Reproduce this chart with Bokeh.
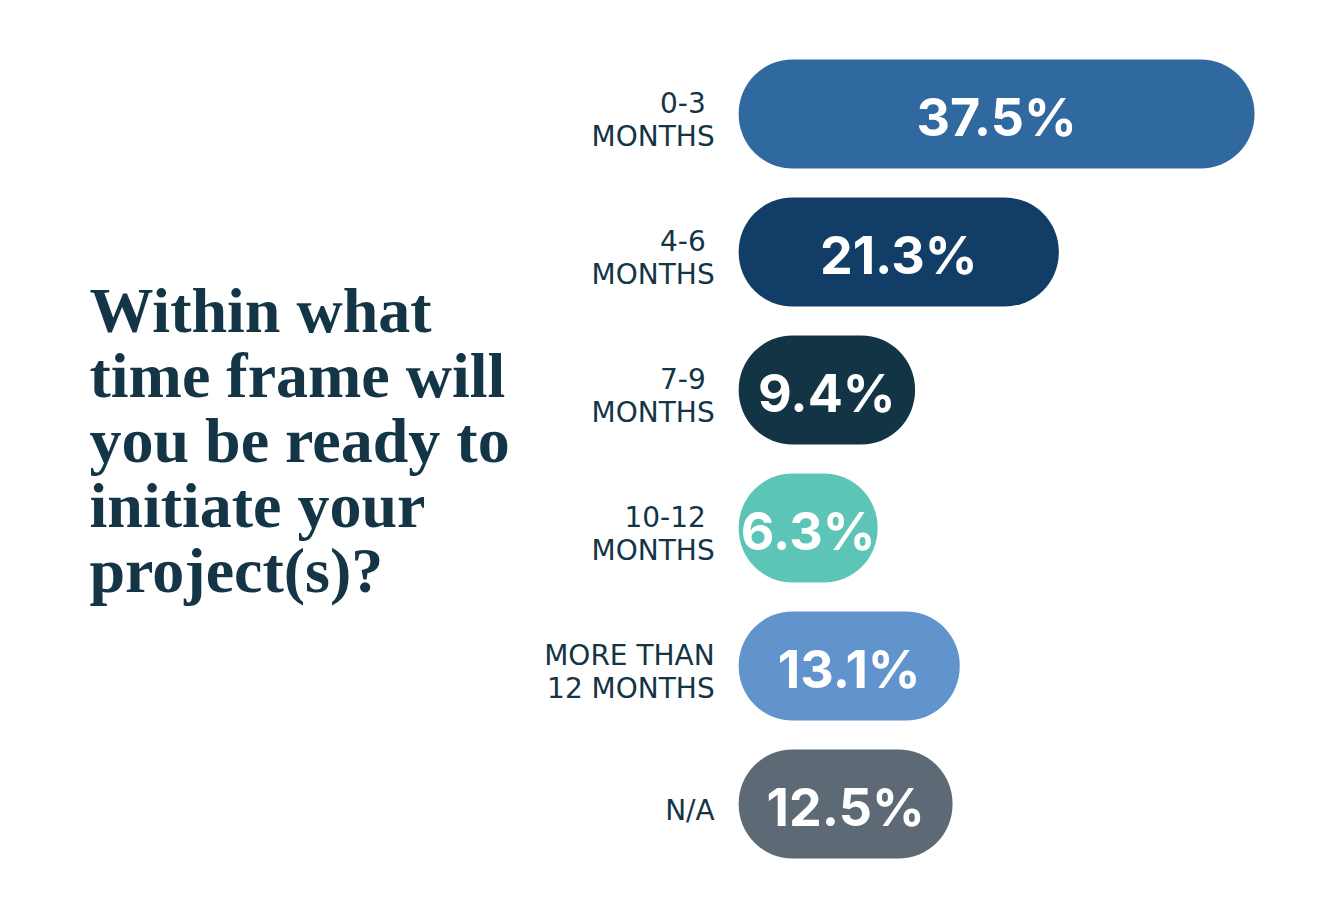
from bokeh.plotting import figure
from bokeh.models import ColumnDataSource, Range1d, Label
from bokeh.core.properties import value
from bokeh.embed import file_html
from bokeh.resources import INLINE

# ---- data ----
CATEGORIES = ["0-3 \nMONTHS", "4-6 \nMONTHS", "7-9 \nMONTHS", "10-12 \nMONTHS",
              "MORE THAN\n12 MONTHS", "N/A"]
VALUES = [37.5, 21.3, 9.4, 6.3, 13.1, 12.5]
LABELS = ["37.5%", "21.3%", "9.4%", "6.3%", "13.1%", "12.5%"]
COLORS = ["#3068a0", "#113d66", "#133444", "#5cc5b8", "#6193cc", "#5d6a75"]
TITLE_LINES = ["Within what", "time frame will", "you be ready to",
               "initiate your", "project(s)?"]

# ---- style constants ----
W, H = 1308, 898
BAR_BASE = -5.2          # pill start (value units) so short bars keep room for caps
PX_PER_UNIT = 12.08
ZERO_PX = 801
ROW_PX = 138
FIRST_ROW_PX = 113.5
TEXT_DARK = "#133546"

x_start = -ZERO_PX / PX_PER_UNIT
x_end = (W - ZERO_PX) / PX_PER_UNIT
y_top = -FIRST_ROW_PX / ROW_PX
y_bot = (H - FIRST_ROW_PX) / ROW_PX

idx = list(range(len(VALUES)))
src = ColumnDataSource(dict(
    y=idx,
    v=VALUES,
    left=[BAR_BASE] * len(VALUES),
    mid=[(BAR_BASE + v) / 2 for v in VALUES],
    lab=LABELS,
    cat=CATEGORIES,
    color=COLORS,
))

p = figure(width=W, height=H, output_backend="svg", toolbar_location=None,
           x_range=Range1d(x_start, x_end), y_range=Range1d(y_bot, y_top),
           min_border=0, background_fill_color="white", border_fill_color="white")
p.axis.visible = False
p.grid.visible = False
p.outline_line_color = None

p.hbar(y="y", left="left", right="v", height=109 / ROW_PX, fill_color="color",
       line_color=None, border_radius=54, source=src)

p.text(x="mid", y="y", text="lab", source=src, text_color="white",
       text_font=value("Inter"), text_font_style="bold", text_font_size="52px",
       text_align="center", text_baseline="middle", y_offset=3)

p.text(x="left", y="y", text="cat", source=src, text_color=TEXT_DARK,
       text_font=value("DejaVu Sans"), text_font_size="28px",
       text_align="right", text_baseline="middle", x_offset=-24, y_offset=6,
       text_line_height=0.98)

for i, line in enumerate(TITLE_LINES):
    p.add_layout(Label(x=89, y=H - (310 + 65 * i), x_units="screen", y_units="screen",
                       text=line, text_font="Liberation Serif", text_font_style="bold",
                       text_font_size="64px", text_color=TEXT_DARK,
                       text_baseline="alphabetic", text_align="left"))

open("out.html", "w").write(file_html(p, INLINE))
